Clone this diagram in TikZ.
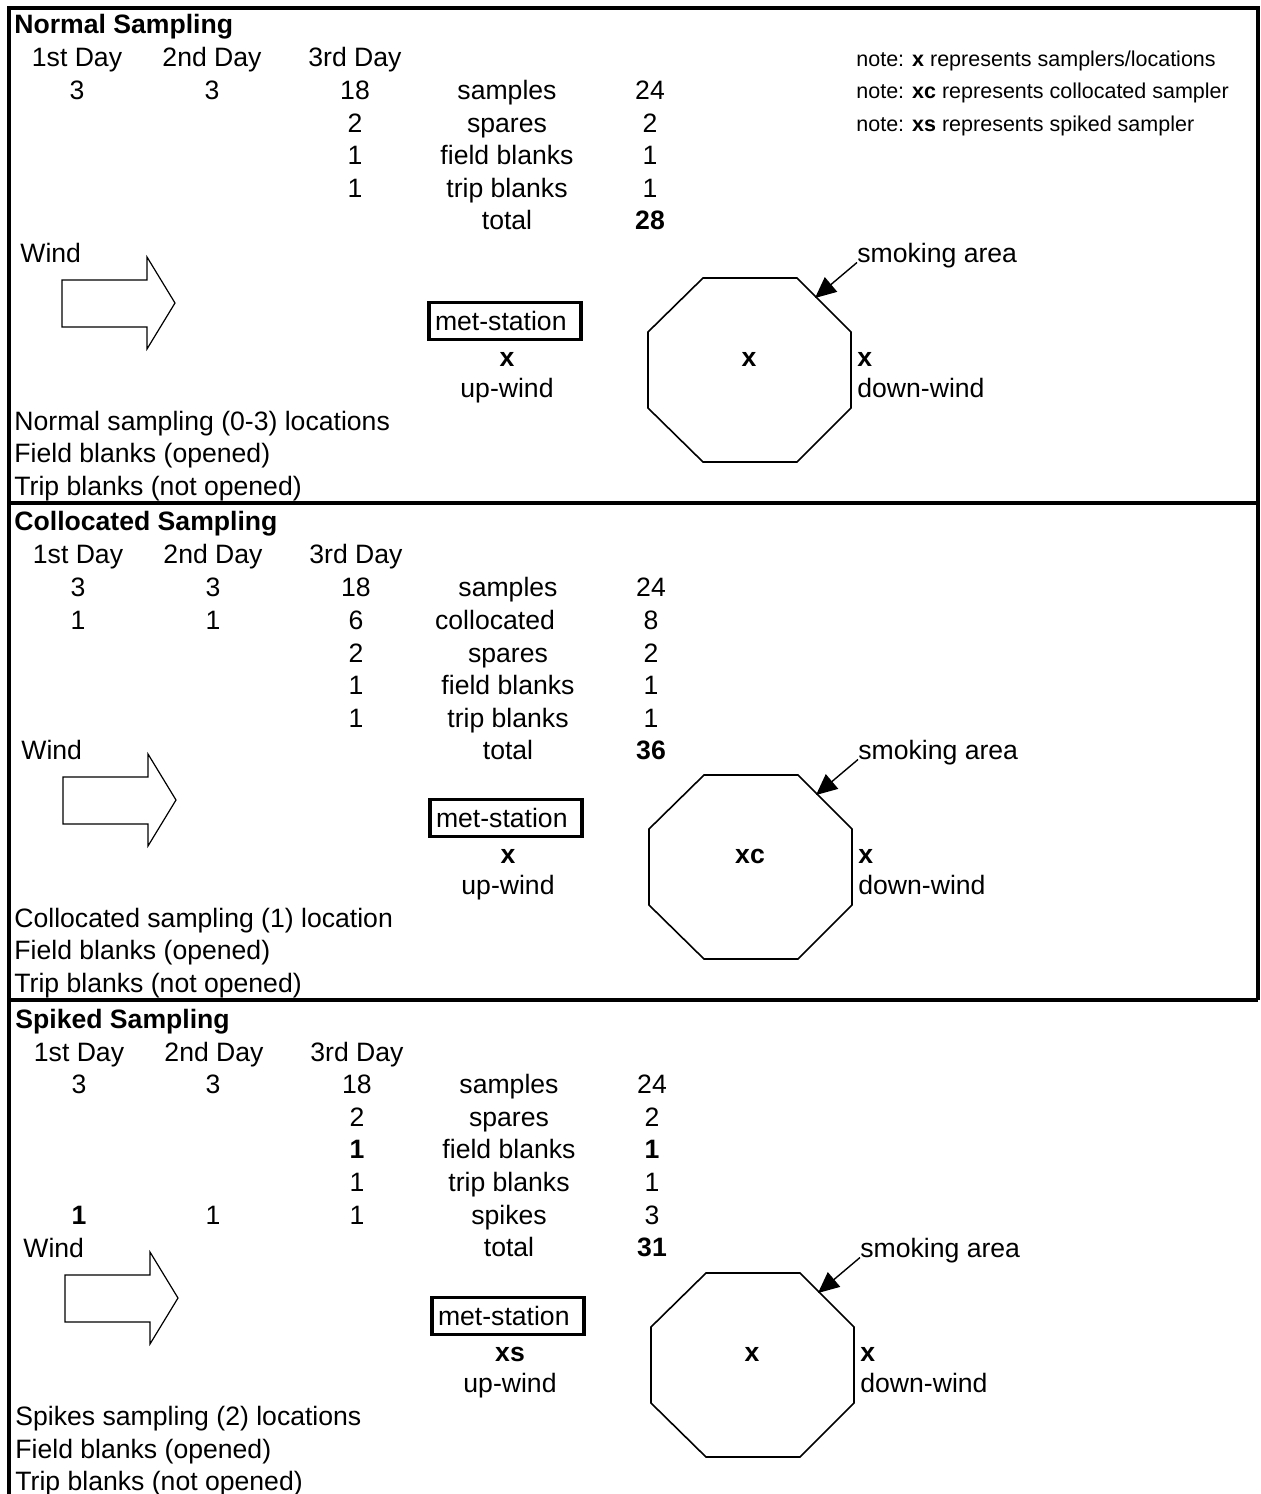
\documentclass[tikz,border=0pt]{standalone}
\usepackage{fontspec}
\setmainfont{Liberation Sans}
\usetikzlibrary{arrows.meta}
\tikzset{cell/.style={inner sep=0pt, anchor=base, yshift=-4.75pt}}
\tikzset{lefttext/.style={cell, anchor=base west}}
\tikzset{notetext/.style={inner sep=0pt, anchor=base west, yshift=-3.9pt, font=\fontsize{10.75}{13}\selectfont}}
\tikzset{frame/.style={line width=1.8pt}}
\tikzset{windarrow/.style={line width=0.6pt, line join=miter}}
\tikzset{area/.style={line width=0.8pt}}
\tikzset{metbox/.style={draw, line width=1.6pt, inner xsep=3pt, inner ysep=0pt, text width=70pt, minimum height=18.5pt, align=left}}
\tikzset{pointer/.style={line width=0.7pt, -{Triangle[length=10.5pt, width=9.5pt]}}}

\begin{document}
\begin{tikzpicture}[x=0.5pt, y=-0.5pt, font=\fontsize{13.3}{15.8}\selectfont]
    \useasboundingbox (0,0) rectangle (1260,1494);
    % outer frame and section rules
    \draw[frame] (9,1494) -- (9,8) -- (1258,8) -- (1258,1000);
    \draw[frame] (9,503) -- (1258,503);
    \draw[frame] (9,1000) -- (1258,1000);

    % wind, met-station and smoking area, same in every section
    \foreach \s/\dx/\dy/\metx/\midx in {1/0/0/x/x, 2/1/497/x/xc, 3/3/995/xs/x} {
        \begin{scope}[shift={(\dx,\dy)}]
            \node[lefttext] (wind\s) at (20,253) {Wind};
            \draw[windarrow] (62,280) -- (147,280) -- (147,257) -- (175,303) -- (147,349) -- (147,327) -- (62,327) -- cycle;
            \node[metbox] (met\s) at (505,321) {met-station};
            \node[cell] (upx\s) at (507,357) {\textbf{\metx}};
            \node[cell] (up\s) at (507,388) {up-wind};
            \draw[area] (703,278) -- (797,278) -- (851,332) -- (851,408) -- (797,462) -- (703,462) -- (648,408) -- (648,332) -- cycle;
            \node[cell] (midx\s) at (749,357) {\textbf{\midx}};
            \node[lefttext] (downx\s) at (857,357) {\textbf{x}};
            \node[lefttext] (down\s) at (857,388) {down-wind};
            \node[lefttext] (smoke\s) at (857,253) {smoking area};
            \coordinate (edge\s) at (815,298);
            \draw[pointer] (smoke\s.base west) -- (edge\s);
        \end{scope}
    }

    % normal sampling
    \node[lefttext] (title1) at (14,24) {\textbf{Normal Sampling}};
    \foreach \x/\t [count=\i] in {77/1st Day, 212/2nd Day, 355/3rd Day}
        \node[cell] (head1-\i) at (\x,57) {\t};
    \foreach \x/\y/\t [count=\i] in {77/90/3, 212/90/3, 355/90/18, 355/123/2, 355/155/1, 355/188/1}
        \node[cell] (num1-\i) at (\x,\y) {\t};
    \foreach \x/\y/\t/\n [count=\i] in {507/90/samples/24, 507/123/spares/2, 507/155/field blanks/1, 507/188/trip blanks/1, 507/220/total/\textbf{28}} {
        \node[cell] (item1-\i) at (\x,\y) {\t};
        \node[cell] (sum1-\i) at (650,\y) {\n};
    }
    \node[notetext] (note1) at (856,59) {note: \textbf{x} represents samplers/locations};
    \node[notetext] (note2) at (856,91) {note: \textbf{xc} represents collocated sampler};
    \node[notetext] (note3) at (856,124) {note: \textbf{xs} represents spiked sampler};
    \foreach \y/\t [count=\i] in {421/{Normal sampling (0-3) locations}, 453/{Field blanks (opened)}, 486/{Trip blanks (not opened)}}
        \node[lefttext] (foot1-\i) at (14,\y) {\t};

    % collocated sampling
    \begin{scope}[shift={(1,497)}]
        \node[lefttext] (title2) at (13,24) {\textbf{Collocated Sampling}};
        \foreach \x/\t [count=\i] in {77/1st Day, 212/2nd Day, 355/3rd Day}
            \node[cell] (head2-\i) at (\x,57) {\t};
        \foreach \x/\y/\t [count=\i] in {77/90/3, 212/90/3, 355/90/18, 77/123/1, 212/123/1, 355/123/6, 355/156/2, 355/188/1, 355/221/1}
            \node[cell] (num2-\i) at (\x,\y) {\t};
        \foreach \x/\y/\t/\n [count=\i] in {507/90/samples/24, 494/123/collocated/8, 507/156/spares/2, 507/188/field blanks/1, 507/221/trip blanks/1, 507/253/total/\textbf{36}} {
            \node[cell] (item2-\i) at (\x,\y) {\t};
            \node[cell] (sum2-\i) at (650,\y) {\n};
        }
        \foreach \y/\t [count=\i] in {421/{Collocated sampling (1) location}, 453/{Field blanks (opened)}, 486/{Trip blanks (not opened)}}
            \node[lefttext] (foot2-\i) at (13,\y) {\t};
    \end{scope}

    % spiked sampling
    \begin{scope}[shift={(2,995)}]
        \node[lefttext] (title3) at (13,24) {\textbf{Spiked Sampling}};
        \foreach \x/\t [count=\i] in {77/1st Day, 212/2nd Day, 355/3rd Day}
            \node[cell] (head3-\i) at (\x,57) {\t};
        \foreach \x/\y/\t [count=\i] in {77/89/3, 211/89/3, 355/89/18, 355/122/2, 355/154/\textbf{1}, 355/187/1, 77/220/\textbf{1}, 211/220/1, 355/220/1}
            \node[cell] (num3-\i) at (\x,\y) {\t};
        \foreach \x/\y/\t/\n [count=\i] in {507/89/samples/24, 507/122/spares/2, 507/154/field blanks/\textbf{1}, 507/187/trip blanks/1, 507/220/spikes/3, 507/252/total/\textbf{31}} {
            \node[cell] (item3-\i) at (\x,\y) {\t};
            \node[cell] (sum3-\i) at (650,\y) {\n};
        }
        \foreach \y/\t [count=\i] in {421/{Spikes sampling (2) locations}, 454/{Field blanks (opened)}, 486/{Trip blanks (not opened)}}
            \node[lefttext] (foot3-\i) at (13,\y) {\t};
    \end{scope}
\end{tikzpicture}
\end{document}
